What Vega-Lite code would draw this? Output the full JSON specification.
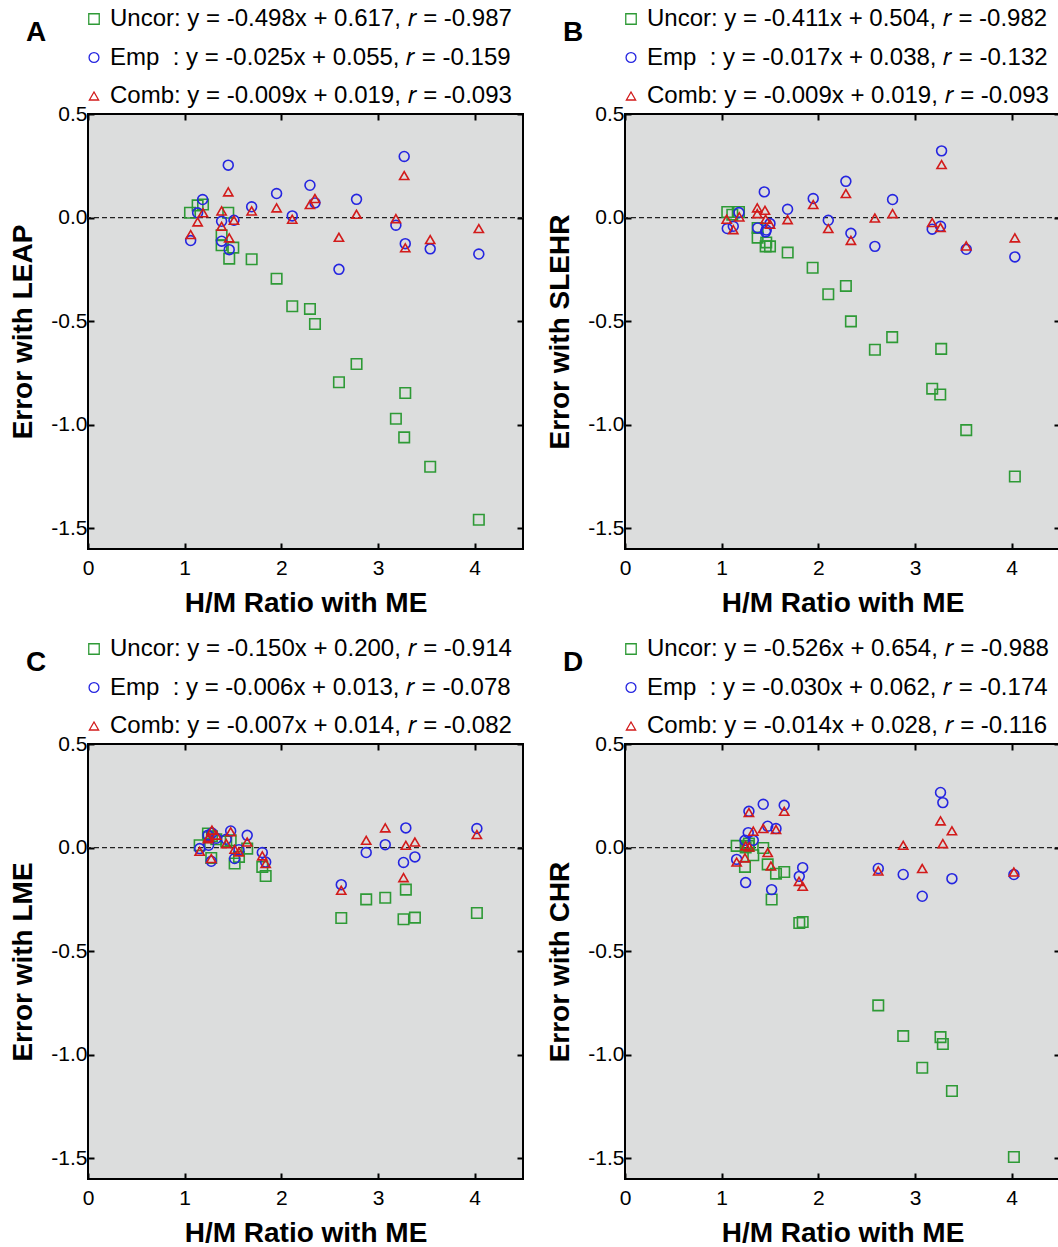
{
  "$schema": "https://vega.github.io/schema/vega-lite/v6.json",
  "background": "white",
  "padding": {"left": 8, "top": 6, "right": 0, "bottom": 0},
  "datasets": {
    "A": [
      {"s":"Uncor","x":1.055,"y":0.023},{"s":"Uncor","x":1.134,"y":0.059},{"s":"Uncor","x":1.19,"y":0.063},{"s":"Uncor","x":1.451,"y":0.023},{"s":"Uncor","x":1.382,"y":-0.085},{"s":"Uncor","x":1.382,"y":-0.134},{"s":"Uncor","x":1.503,"y":-0.145},{"s":"Uncor","x":1.461,"y":-0.198},{"s":"Uncor","x":1.693,"y":-0.201},{"s":"Uncor","x":1.951,"y":-0.295},{"s":"Uncor","x":2.113,"y":-0.428},{"s":"Uncor","x":2.296,"y":-0.441},{"s":"Uncor","x":2.348,"y":-0.514},{"s":"Uncor","x":2.778,"y":-0.707},{"s":"Uncor","x":2.596,"y":-0.795},{"s":"Uncor","x":3.282,"y":-0.847},{"s":"Uncor","x":3.185,"y":-0.971},{"s":"Uncor","x":3.271,"y":-1.061},{"s":"Uncor","x":3.54,"y":-1.203},{"s":"Uncor","x":4.043,"y":-1.459},
      {"s":"Emp","x":1.186,"y":0.087},{"s":"Emp","x":1.134,"y":0.023},{"s":"Emp","x":1.062,"y":-0.111},{"s":"Emp","x":1.382,"y":-0.018},{"s":"Emp","x":1.382,"y":-0.114},{"s":"Emp","x":1.51,"y":-0.013},{"s":"Emp","x":1.461,"y":-0.155},{"s":"Emp","x":1.451,"y":0.253},{"s":"Emp","x":1.693,"y":0.052},{"s":"Emp","x":1.951,"y":0.116},{"s":"Emp","x":2.113,"y":0.008},{"s":"Emp","x":2.296,"y":0.156},{"s":"Emp","x":2.348,"y":0.071},{"s":"Emp","x":2.778,"y":0.088},{"s":"Emp","x":2.596,"y":-0.25},{"s":"Emp","x":3.282,"y":-0.126},{"s":"Emp","x":3.185,"y":-0.037},{"s":"Emp","x":3.271,"y":0.295},{"s":"Emp","x":3.54,"y":-0.151},{"s":"Emp","x":4.043,"y":-0.176},
      {"s":"Comb","x":1.062,"y":-0.082},{"s":"Comb","x":1.134,"y":-0.021},{"s":"Comb","x":1.19,"y":0.023},{"s":"Comb","x":1.382,"y":0.032},{"s":"Comb","x":1.382,"y":-0.042},{"s":"Comb","x":1.451,"y":0.124},{"s":"Comb","x":1.461,"y":-0.098},{"s":"Comb","x":1.51,"y":-0.013},{"s":"Comb","x":1.693,"y":0.032},{"s":"Comb","x":1.951,"y":0.047},{"s":"Comb","x":2.113,"y":-0.008},{"s":"Comb","x":2.296,"y":0.063},{"s":"Comb","x":2.348,"y":0.092},{"s":"Comb","x":2.778,"y":0.016},{"s":"Comb","x":2.596,"y":-0.095},{"s":"Comb","x":3.185,"y":-0.005},{"s":"Comb","x":3.282,"y":-0.146},{"s":"Comb","x":3.271,"y":0.203},{"s":"Comb","x":3.54,"y":-0.106},{"s":"Comb","x":4.043,"y":-0.053}
    ],
    "B": [
      {"s":"Uncor","x":1.058,"y":0.027},{"s":"Uncor","x":1.179,"y":0.027},{"s":"Uncor","x":1.11,"y":0.014},{"s":"Uncor","x":1.372,"y":-0.05},{"s":"Uncor","x":1.372,"y":-0.097},{"s":"Uncor","x":1.455,"y":-0.139},{"s":"Uncor","x":1.5,"y":-0.139},{"s":"Uncor","x":1.461,"y":-0.12},{"s":"Uncor","x":1.683,"y":-0.169},{"s":"Uncor","x":1.941,"y":-0.242},{"s":"Uncor","x":2.103,"y":-0.37},{"s":"Uncor","x":2.285,"y":-0.33},{"s":"Uncor","x":2.337,"y":-0.501},{"s":"Uncor","x":2.764,"y":-0.577},{"s":"Uncor","x":2.585,"y":-0.638},{"s":"Uncor","x":3.271,"y":-0.634},{"s":"Uncor","x":3.178,"y":-0.826},{"s":"Uncor","x":3.261,"y":-0.854},{"s":"Uncor","x":3.53,"y":-1.026},{"s":"Uncor","x":4.033,"y":-1.25},
      {"s":"Emp","x":3.275,"y":0.322},{"s":"Emp","x":2.285,"y":0.175},{"s":"Emp","x":1.441,"y":0.124},{"s":"Emp","x":1.947,"y":0.092},{"s":"Emp","x":2.768,"y":0.087},{"s":"Emp","x":1.682,"y":0.04},{"s":"Emp","x":1.179,"y":0.024},{"s":"Emp","x":2.103,"y":-0.013},{"s":"Emp","x":1.058,"y":-0.053},{"s":"Emp","x":1.12,"y":-0.042},{"s":"Emp","x":1.372,"y":-0.05},{"s":"Emp","x":1.455,"y":-0.069},{"s":"Emp","x":1.5,"y":-0.029},{"s":"Emp","x":1.461,"y":-0.06},{"s":"Emp","x":2.337,"y":-0.076},{"s":"Emp","x":2.585,"y":-0.139},{"s":"Emp","x":3.178,"y":-0.056},{"s":"Emp","x":3.264,"y":-0.042},{"s":"Emp","x":3.53,"y":-0.153},{"s":"Emp","x":4.033,"y":-0.19},
      {"s":"Comb","x":3.275,"y":0.256},{"s":"Comb","x":2.285,"y":0.116},{"s":"Comb","x":1.947,"y":0.063},{"s":"Comb","x":2.768,"y":0.019},{"s":"Comb","x":2.585,"y":-0.002},{"s":"Comb","x":1.368,"y":0.047},{"s":"Comb","x":1.448,"y":0.035},{"s":"Comb","x":1.368,"y":0.019},{"s":"Comb","x":1.052,"y":-0.008},{"s":"Comb","x":1.182,"y":0.003},{"s":"Comb","x":1.12,"y":-0.058},{"s":"Comb","x":1.455,"y":-0.008},{"s":"Comb","x":1.5,"y":-0.032},{"s":"Comb","x":1.682,"y":-0.01},{"s":"Comb","x":2.103,"y":-0.053},{"s":"Comb","x":2.337,"y":-0.11},{"s":"Comb","x":3.178,"y":-0.024},{"s":"Comb","x":3.264,"y":-0.048},{"s":"Comb","x":3.53,"y":-0.137},{"s":"Comb","x":4.033,"y":-0.098}
    ],
    "C": [
      {"s":"Uncor","x":1.155,"y":0.011},{"s":"Uncor","x":1.241,"y":0.068},{"s":"Uncor","x":1.248,"y":0.05},{"s":"Uncor","x":1.275,"y":-0.05},{"s":"Uncor","x":1.282,"y":0.055},{"s":"Uncor","x":1.327,"y":0.04},{"s":"Uncor","x":1.43,"y":0.03},{"s":"Uncor","x":1.476,"y":0.035},{"s":"Uncor","x":1.517,"y":-0.077},{"s":"Uncor","x":1.562,"y":-0.045},{"s":"Uncor","x":1.647,"y":-0.005},{"s":"Uncor","x":1.803,"y":-0.093},{"s":"Uncor","x":1.838,"y":-0.137},{"s":"Uncor","x":2.62,"y":-0.34},{"s":"Uncor","x":2.878,"y":-0.25},{"s":"Uncor","x":3.075,"y":-0.242},{"s":"Uncor","x":3.264,"y":-0.346},{"s":"Uncor","x":3.288,"y":-0.203},{"s":"Uncor","x":3.382,"y":-0.338},{"s":"Uncor","x":4.023,"y":-0.316},
      {"s":"Emp","x":1.155,"y":-0.005},{"s":"Emp","x":1.241,"y":0.06},{"s":"Emp","x":1.248,"y":0.011},{"s":"Emp","x":1.275,"y":-0.066},{"s":"Emp","x":1.282,"y":0.07},{"s":"Emp","x":1.327,"y":0.045},{"s":"Emp","x":1.43,"y":0.04},{"s":"Emp","x":1.476,"y":0.08},{"s":"Emp","x":1.517,"y":-0.053},{"s":"Emp","x":1.562,"y":-0.01},{"s":"Emp","x":1.647,"y":0.059},{"s":"Emp","x":1.803,"y":-0.024},{"s":"Emp","x":1.838,"y":-0.07},{"s":"Emp","x":2.62,"y":-0.179},{"s":"Emp","x":2.878,"y":-0.024},{"s":"Emp","x":3.075,"y":0.014},{"s":"Emp","x":3.264,"y":-0.072},{"s":"Emp","x":3.288,"y":0.095},{"s":"Emp","x":3.382,"y":-0.045},{"s":"Emp","x":4.023,"y":0.092},
      {"s":"Comb","x":1.155,"y":-0.018},{"s":"Comb","x":1.241,"y":0.043},{"s":"Comb","x":1.248,"y":0.05},{"s":"Comb","x":1.275,"y":-0.053},{"s":"Comb","x":1.282,"y":0.084},{"s":"Comb","x":1.327,"y":0.06},{"s":"Comb","x":1.43,"y":0.019},{"s":"Comb","x":1.476,"y":0.076},{"s":"Comb","x":1.517,"y":-0.008},{"s":"Comb","x":1.562,"y":-0.021},{"s":"Comb","x":1.647,"y":0.027},{"s":"Comb","x":1.803,"y":-0.04},{"s":"Comb","x":1.838,"y":-0.077},{"s":"Comb","x":2.62,"y":-0.206},{"s":"Comb","x":2.878,"y":0.035},{"s":"Comb","x":3.075,"y":0.095},{"s":"Comb","x":3.264,"y":-0.145},{"s":"Comb","x":3.288,"y":0.011},{"s":"Comb","x":3.382,"y":0.027},{"s":"Comb","x":4.023,"y":0.063}
    ],
    "D": [
      {"s":"Uncor","x":1.155,"y":0.008},{"s":"Uncor","x":1.241,"y":-0.093},{"s":"Uncor","x":1.248,"y":0.0},{"s":"Uncor","x":1.275,"y":0.008},{"s":"Uncor","x":1.282,"y":0.02},{"s":"Uncor","x":1.327,"y":-0.037},{"s":"Uncor","x":1.43,"y":-0.002},{"s":"Uncor","x":1.476,"y":-0.081},{"s":"Uncor","x":1.517,"y":-0.251},{"s":"Uncor","x":1.562,"y":-0.126},{"s":"Uncor","x":1.647,"y":-0.118},{"s":"Uncor","x":1.803,"y":-0.364},{"s":"Uncor","x":1.838,"y":-0.359},{"s":"Uncor","x":2.62,"y":-0.762},{"s":"Uncor","x":2.878,"y":-0.91},{"s":"Uncor","x":3.075,"y":-1.063},{"s":"Uncor","x":3.264,"y":-0.915},{"s":"Uncor","x":3.288,"y":-0.948},{"s":"Uncor","x":3.382,"y":-1.175},{"s":"Uncor","x":4.023,"y":-1.494},
      {"s":"Emp","x":1.155,"y":-0.057},{"s":"Emp","x":1.241,"y":0.035},{"s":"Emp","x":1.248,"y":-0.169},{"s":"Emp","x":1.275,"y":0.072},{"s":"Emp","x":1.282,"y":0.175},{"s":"Emp","x":1.327,"y":0.035},{"s":"Emp","x":1.43,"y":0.209},{"s":"Emp","x":1.476,"y":0.103},{"s":"Emp","x":1.517,"y":-0.203},{"s":"Emp","x":1.562,"y":0.092},{"s":"Emp","x":1.647,"y":0.204},{"s":"Emp","x":1.803,"y":-0.139},{"s":"Emp","x":1.838,"y":-0.097},{"s":"Emp","x":2.62,"y":-0.101},{"s":"Emp","x":2.878,"y":-0.13},{"s":"Emp","x":3.075,"y":-0.235},{"s":"Emp","x":3.264,"y":0.266},{"s":"Emp","x":3.288,"y":0.217},{"s":"Emp","x":3.382,"y":-0.15},{"s":"Emp","x":4.023,"y":-0.13},
      {"s":"Comb","x":1.155,"y":-0.07},{"s":"Comb","x":1.241,"y":-0.05},{"s":"Comb","x":1.248,"y":0.008},{"s":"Comb","x":1.282,"y":0.169},{"s":"Comb","x":1.285,"y":0.003},{"s":"Comb","x":1.327,"y":0.079},{"s":"Comb","x":1.43,"y":0.092},{"s":"Comb","x":1.476,"y":-0.024},{"s":"Comb","x":1.51,"y":-0.089},{"s":"Comb","x":1.562,"y":0.087},{"s":"Comb","x":1.647,"y":0.175},{"s":"Comb","x":1.8,"y":-0.163},{"s":"Comb","x":1.838,"y":-0.187},{"s":"Comb","x":2.62,"y":-0.113},{"s":"Comb","x":2.878,"y":0.011},{"s":"Comb","x":3.075,"y":-0.101},{"s":"Comb","x":3.264,"y":0.129},{"s":"Comb","x":3.288,"y":0.019},{"s":"Comb","x":3.382,"y":0.081},{"s":"Comb","x":4.023,"y":-0.118}
    ]
  },
  "config": {
    "font": "Liberation Sans",
    "view": {"stroke": "black", "strokeWidth": 2, "fill": "#dcdddd"},
    "axis": {
      "domain": false, "grid": false, "labelFlush": false,
      "tickColor": "black", "tickWidth": 2, "tickSize": -6,
      "labelFont": "Liberation Sans", "labelFontSize": 21, "labelColor": "black",
      "titleFont": "Liberation Sans", "titleFontSize": 28, "titleFontWeight": "bold", "titleColor": "black"
    },
    "axisBottom": {"labelPadding": 14, "titlePadding": 11},
    "axisLeft": {"labelPadding": 7, "titlePadding": 13},
    "legend": {
      "orient": "top", "direction": "vertical", "title": null,
      "labelFont": "Liberation Sans", "labelFontSize": 24, "labelColor": "black", "labelLimit": 600,
      "labelOffset": 4, "symbolOffset": -6, "rowPadding": 14.5, "symbolSize": 50, "symbolStrokeWidth": 1.3,
      "padding": 0, "offset": 5
    },
    "title": {"font": "Liberation Sans", "fontSize": 28, "fontWeight": "bold", "color": "black", "anchor": "start", "frame": "group"}
  },
  "columns": 2,
  "spacing": {"column": 20, "row": 18},
  "resolve": {"scale": {"color": "independent", "shape": "independent", "size": "independent"}, "legend": {"color": "independent", "shape": "independent"}},
  "concat": [
    {
      "title": {"text": "A", "dx": -62, "dy": 44},
      "width": 435, "height": 435,
      "data": {"name": "A"},
      "resolve": {"axis": {"x": "independent", "y": "independent"}},
      "layer": [
        {"mark": {"type": "point", "opacity": 0}, "encoding": {
          "x": {"field": "x", "type": "quantitative", "scale": {"domain": [0, 4.5], "nice": false}, "axis": {"orient": "top", "values": [0,1,2,3,4], "labels": false, "title": null}},
          "y": {"field": "y", "type": "quantitative", "scale": {"domain": [-1.6, 0.5], "nice": false}, "axis": {"orient": "right", "values": [-1.5,-1,-0.5,0,0.5], "labels": false, "title": null}}}},
        {"data": {"values": [{}]}, "mark": {"type": "rule", "strokeDash": [5, 3], "color": "#222", "strokeWidth": 1.3}, "encoding": {"y": {"datum": 0, "type": "quantitative", "axis": null}}},
        {"mark": {"type": "point", "filled": false, "strokeWidth": 1.6, "opacity": 1}, "encoding": {
          "x": {"field": "x", "type": "quantitative", "axis": {"orient": "bottom", "values": [0,1,2,3,4], "title": "H/M Ratio with ME"}},
          "y": {"field": "y", "type": "quantitative", "axis": {"orient": "left", "values": [-1.5,-1,-0.5,0,0.5], "format": ".1f", "labelExpr": "replace(datum.label, '\u2212', '-')", "title": "Error with LEAP"}},
          "size": {"field": "s", "type": "nominal", "scale": {"domain": ["Uncor","Emp","Comb"], "range": [110, 85, 150]}, "legend": null},
          "color": {"field": "s", "type": "nominal", "scale": {"domain": ["Uncor","Emp","Comb"], "range": ["#2e9a36","#2525e0","#d21b1b"]}, "legend": {"labelExpr": "datum.label == 'Uncor' ? 'Uncor: y = -0.498x + 0.617, 𝑟 = -0.987' : datum.label == 'Emp' ? 'Emp\u00a0 : y = -0.025x + 0.055, 𝑟 = -0.159' : 'Comb: y = -0.009x + 0.019, 𝑟 = -0.093'"}},
          "shape": {"field": "s", "type": "nominal", "scale": {"domain": ["Uncor","Emp","Comb"], "range": ["square","circle","triangle-up"]}, "legend": {"labelExpr": "datum.label == 'Uncor' ? 'Uncor: y = -0.498x + 0.617, 𝑟 = -0.987' : datum.label == 'Emp' ? 'Emp\u00a0 : y = -0.025x + 0.055, 𝑟 = -0.159' : 'Comb: y = -0.009x + 0.019, 𝑟 = -0.093'"}}}}
      ]
    },
    {
      "title": {"text": "B", "dx": -62, "dy": 44},
      "width": 435, "height": 435,
      "data": {"name": "B"},
      "resolve": {"axis": {"x": "independent", "y": "independent"}},
      "layer": [
        {"mark": {"type": "point", "opacity": 0}, "encoding": {
          "x": {"field": "x", "type": "quantitative", "scale": {"domain": [0, 4.5], "nice": false}, "axis": {"orient": "top", "values": [0,1,2,3,4], "labels": false, "title": null}},
          "y": {"field": "y", "type": "quantitative", "scale": {"domain": [-1.6, 0.5], "nice": false}, "axis": {"orient": "right", "values": [-1.5,-1,-0.5,0,0.5], "labels": false, "title": null}}}},
        {"data": {"values": [{}]}, "mark": {"type": "rule", "strokeDash": [5, 3], "color": "#222", "strokeWidth": 1.3}, "encoding": {"y": {"datum": 0, "type": "quantitative", "axis": null}}},
        {"mark": {"type": "point", "filled": false, "strokeWidth": 1.6, "opacity": 1}, "encoding": {
          "x": {"field": "x", "type": "quantitative", "axis": {"orient": "bottom", "values": [0,1,2,3,4], "title": "H/M Ratio with ME"}},
          "y": {"field": "y", "type": "quantitative", "axis": {"orient": "left", "values": [-1.5,-1,-0.5,0,0.5], "format": ".1f", "labelExpr": "replace(datum.label, '\u2212', '-')", "title": "Error with SLEHR"}},
          "size": {"field": "s", "type": "nominal", "scale": {"domain": ["Uncor","Emp","Comb"], "range": [110, 85, 150]}, "legend": null},
          "color": {"field": "s", "type": "nominal", "scale": {"domain": ["Uncor","Emp","Comb"], "range": ["#2e9a36","#2525e0","#d21b1b"]}, "legend": {"labelExpr": "datum.label == 'Uncor' ? 'Uncor: y = -0.411x + 0.504, 𝑟 = -0.982' : datum.label == 'Emp' ? 'Emp\u00a0 : y = -0.017x + 0.038, 𝑟 = -0.132' : 'Comb: y = -0.009x + 0.019, 𝑟 = -0.093'"}},
          "shape": {"field": "s", "type": "nominal", "scale": {"domain": ["Uncor","Emp","Comb"], "range": ["square","circle","triangle-up"]}, "legend": {"labelExpr": "datum.label == 'Uncor' ? 'Uncor: y = -0.411x + 0.504, 𝑟 = -0.982' : datum.label == 'Emp' ? 'Emp\u00a0 : y = -0.017x + 0.038, 𝑟 = -0.132' : 'Comb: y = -0.009x + 0.019, 𝑟 = -0.093'"}}}}
      ]
    },
    {
      "title": {"text": "C", "dx": -62, "dy": 44},
      "width": 435, "height": 435,
      "data": {"name": "C"},
      "resolve": {"axis": {"x": "independent", "y": "independent"}},
      "layer": [
        {"mark": {"type": "point", "opacity": 0}, "encoding": {
          "x": {"field": "x", "type": "quantitative", "scale": {"domain": [0, 4.5], "nice": false}, "axis": {"orient": "top", "values": [0,1,2,3,4], "labels": false, "title": null}},
          "y": {"field": "y", "type": "quantitative", "scale": {"domain": [-1.6, 0.5], "nice": false}, "axis": {"orient": "right", "values": [-1.5,-1,-0.5,0,0.5], "labels": false, "title": null}}}},
        {"data": {"values": [{}]}, "mark": {"type": "rule", "strokeDash": [5, 3], "color": "#222", "strokeWidth": 1.3}, "encoding": {"y": {"datum": 0, "type": "quantitative", "axis": null}}},
        {"mark": {"type": "point", "filled": false, "strokeWidth": 1.6, "opacity": 1}, "encoding": {
          "x": {"field": "x", "type": "quantitative", "axis": {"orient": "bottom", "values": [0,1,2,3,4], "title": "H/M Ratio with ME"}},
          "y": {"field": "y", "type": "quantitative", "axis": {"orient": "left", "values": [-1.5,-1,-0.5,0,0.5], "format": ".1f", "labelExpr": "replace(datum.label, '\u2212', '-')", "title": "Error with LME"}},
          "size": {"field": "s", "type": "nominal", "scale": {"domain": ["Uncor","Emp","Comb"], "range": [110, 85, 150]}, "legend": null},
          "color": {"field": "s", "type": "nominal", "scale": {"domain": ["Uncor","Emp","Comb"], "range": ["#2e9a36","#2525e0","#d21b1b"]}, "legend": {"labelExpr": "datum.label == 'Uncor' ? 'Uncor: y = -0.150x + 0.200, 𝑟 = -0.914' : datum.label == 'Emp' ? 'Emp\u00a0 : y = -0.006x + 0.013, 𝑟 = -0.078' : 'Comb: y = -0.007x + 0.014, 𝑟 = -0.082'"}},
          "shape": {"field": "s", "type": "nominal", "scale": {"domain": ["Uncor","Emp","Comb"], "range": ["square","circle","triangle-up"]}, "legend": {"labelExpr": "datum.label == 'Uncor' ? 'Uncor: y = -0.150x + 0.200, 𝑟 = -0.914' : datum.label == 'Emp' ? 'Emp\u00a0 : y = -0.006x + 0.013, 𝑟 = -0.078' : 'Comb: y = -0.007x + 0.014, 𝑟 = -0.082'"}}}}
      ]
    },
    {
      "title": {"text": "D", "dx": -62, "dy": 44},
      "width": 435, "height": 435,
      "data": {"name": "D"},
      "resolve": {"axis": {"x": "independent", "y": "independent"}},
      "layer": [
        {"mark": {"type": "point", "opacity": 0}, "encoding": {
          "x": {"field": "x", "type": "quantitative", "scale": {"domain": [0, 4.5], "nice": false}, "axis": {"orient": "top", "values": [0,1,2,3,4], "labels": false, "title": null}},
          "y": {"field": "y", "type": "quantitative", "scale": {"domain": [-1.6, 0.5], "nice": false}, "axis": {"orient": "right", "values": [-1.5,-1,-0.5,0,0.5], "labels": false, "title": null}}}},
        {"data": {"values": [{}]}, "mark": {"type": "rule", "strokeDash": [5, 3], "color": "#222", "strokeWidth": 1.3}, "encoding": {"y": {"datum": 0, "type": "quantitative", "axis": null}}},
        {"mark": {"type": "point", "filled": false, "strokeWidth": 1.6, "opacity": 1}, "encoding": {
          "x": {"field": "x", "type": "quantitative", "axis": {"orient": "bottom", "values": [0,1,2,3,4], "title": "H/M Ratio with ME"}},
          "y": {"field": "y", "type": "quantitative", "axis": {"orient": "left", "values": [-1.5,-1,-0.5,0,0.5], "format": ".1f", "labelExpr": "replace(datum.label, '\u2212', '-')", "title": "Error with CHR"}},
          "size": {"field": "s", "type": "nominal", "scale": {"domain": ["Uncor","Emp","Comb"], "range": [110, 85, 150]}, "legend": null},
          "color": {"field": "s", "type": "nominal", "scale": {"domain": ["Uncor","Emp","Comb"], "range": ["#2e9a36","#2525e0","#d21b1b"]}, "legend": {"labelExpr": "datum.label == 'Uncor' ? 'Uncor: y = -0.526x + 0.654, 𝑟 = -0.988' : datum.label == 'Emp' ? 'Emp\u00a0 : y = -0.030x + 0.062, 𝑟 = -0.174' : 'Comb: y = -0.014x + 0.028, 𝑟 = -0.116'"}},
          "shape": {"field": "s", "type": "nominal", "scale": {"domain": ["Uncor","Emp","Comb"], "range": ["square","circle","triangle-up"]}, "legend": {"labelExpr": "datum.label == 'Uncor' ? 'Uncor: y = -0.526x + 0.654, 𝑟 = -0.988' : datum.label == 'Emp' ? 'Emp\u00a0 : y = -0.030x + 0.062, 𝑟 = -0.174' : 'Comb: y = -0.014x + 0.028, 𝑟 = -0.116'"}}}}
      ]
    }
  ]
}
